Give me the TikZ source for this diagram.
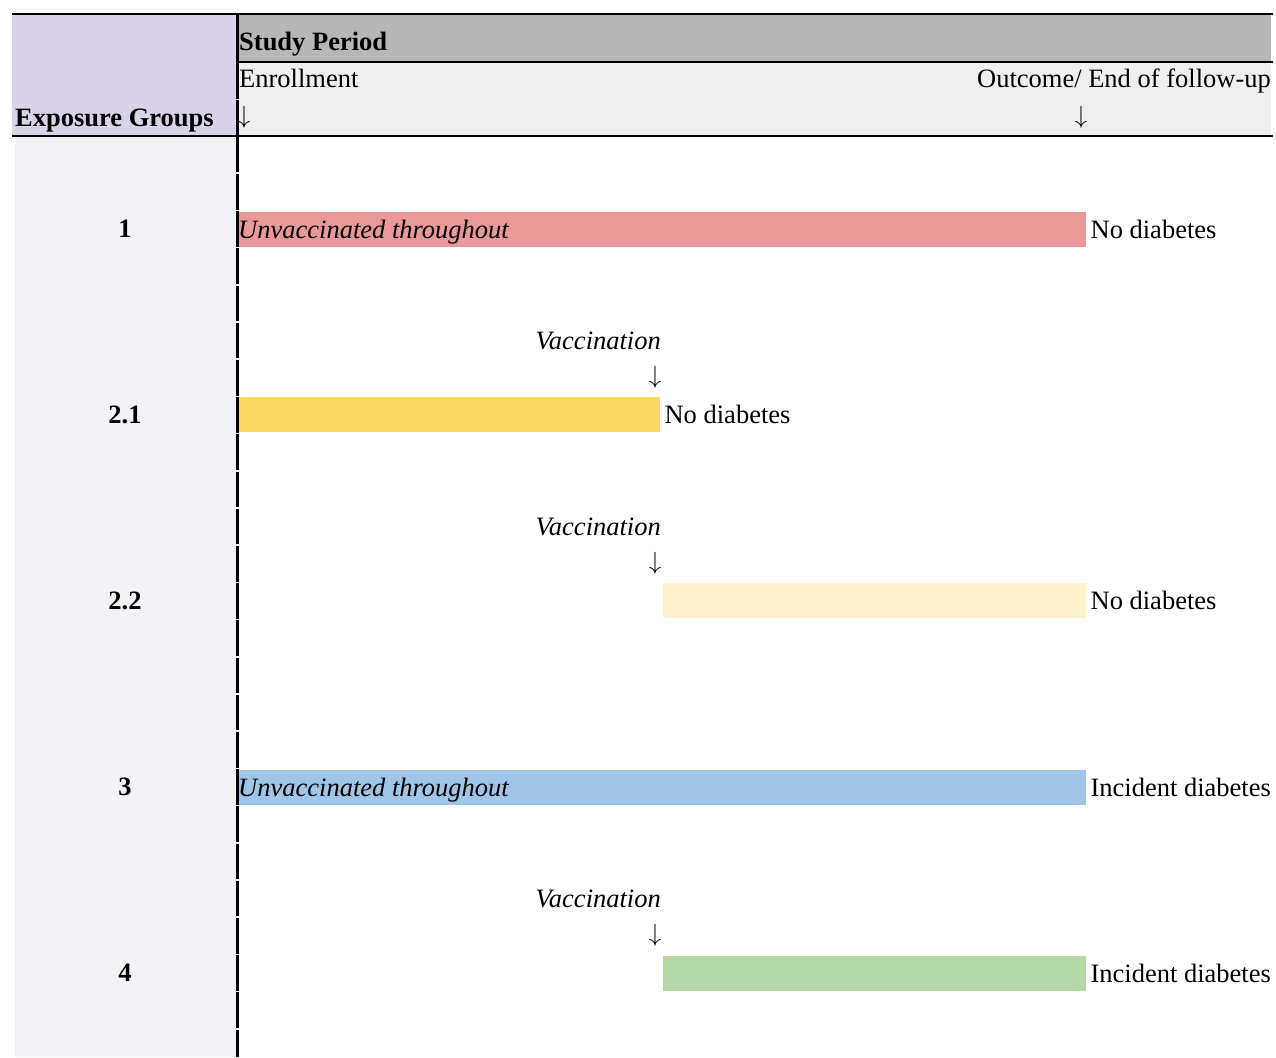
\documentclass[tikz,border=0pt]{standalone}
\usepackage{fontspec}
\setmainfont{Liberation Serif}
\usepackage{tikz}
\usetikzlibrary{positioning}

\definecolor{headpurple}{HTML}{D9D2E9}
\definecolor{colpurple}{HTML}{F3F2F7}
\definecolor{headgray}{HTML}{B7B7B7}
\definecolor{subgray}{HTML}{EFEFEF}
\definecolor{barred}{HTML}{EA9999}
\definecolor{baryellow}{HTML}{FFD966}
\definecolor{barcream}{HTML}{FFF2CC}
\definecolor{barblue}{HTML}{9FC5E8}
\definecolor{bargreen}{HTML}{B6D7A8}

\begin{document}
\begin{tikzpicture}[x=1pt, y=-1pt,
	every node/.style={inner sep=0pt, text height=17.5pt, text depth=0pt,
		font=\fontsize{26.5}{30}\selectfont},
	bar/.style={rectangle, minimum height=35pt, anchor=west},
	txt/.style={anchor=west},
	grp/.style={font=\fontsize{26.5}{30}\selectfont\bfseries},
	down/.style={text height=12pt},
	rule/.style={line width=2.2pt},
	vrule/.style={line width=3pt}]
	\useasboundingbox (0,0) rectangle (1276,1057);

	\fill[headpurple] (12,14) rectangle (237,136);
	\fill[colpurple] (15,136) rectangle (237,1057);
	\fill[headgray] (237,14) rectangle (1271,62);
	\fill[subgray] (237,62) rectangle (1271,136);

	\begin{scope}[every node/.append style={txt}]
		\node[grp] (study) at (239,41.5) {Study Period};
		\node (enrol) at (239,79) {Enrollment};
		\node[anchor=east] (endfu) at (1271,79) {Outcome/ End of follow-up};
		\node[grp] (expo) at (15,117.5) {Exposure Groups};
		\node[down, anchor=center] (arrenrol) at (244,117.5) {$\downarrow$};
		\node[down, anchor=center] (arrend) at (1081,117.5) {$\downarrow$};
	\end{scope}

	\begin{scope}[every node/.append style={grp}]
		\node (g1) at (125,229) {1};
		\node (g21) at (125,415) {2.1};
		\node (g22) at (125,601) {2.2};
		\node (g3) at (125,787) {3};
		\node (g4) at (125,973) {4};
	\end{scope}

	\node[bar, fill=barred, minimum width=848pt] (b1) at (238,229.5) {};
	\node[bar, fill=baryellow, minimum width=422pt] (b21) at (238,414.5) {};
	\node[bar, fill=barcream, minimum width=423pt] (b22) at (663,600.5) {};
	\node[bar, fill=barblue, minimum width=848pt] (b3) at (238,787.5) {};
	\node[bar, fill=bargreen, minimum width=423pt] (b4) at (663,973.5) {};

	\node[txt] (u1) at (b1.west) {\itshape Unvaccinated throughout};
	\node[txt] (u3) at (b3.west) {\itshape Unvaccinated throughout};

	\node[txt, right=4pt of b1] (o1) {No diabetes};
	\node[txt, right=4pt of b21] (o21) {No diabetes};
	\node[txt, right=4pt of b22] (o22) {No diabetes};
	\node[txt, right=4pt of b3] (o3) {Incident diabetes};
	\node[txt, right=4pt of b4] (o4) {Incident diabetes};

	\foreach \y/\n in {340.6/a, 526.6/b, 898.6/c} {
		\node[anchor=east] (vac\n) at (661,\y) {\itshape Vaccination};
		\node[down] (arr\n) at (655,\y+37.2) {$\downarrow$};
	}

	\draw[rule] (12,14) -- (1273,14);
	\draw[rule] (237,62) -- (1273,62);
	\draw[rule] (12,136) -- (1273,136);
	\draw[vrule] (237,13) -- (237,98.6);
	\draw[vrule] (237,100.4) -- (237,136);
	\draw[vrule, dash pattern=on 35.7pt off 1.5pt] (237,136.75) -- (237,1057);
\end{tikzpicture}
\end{document}
